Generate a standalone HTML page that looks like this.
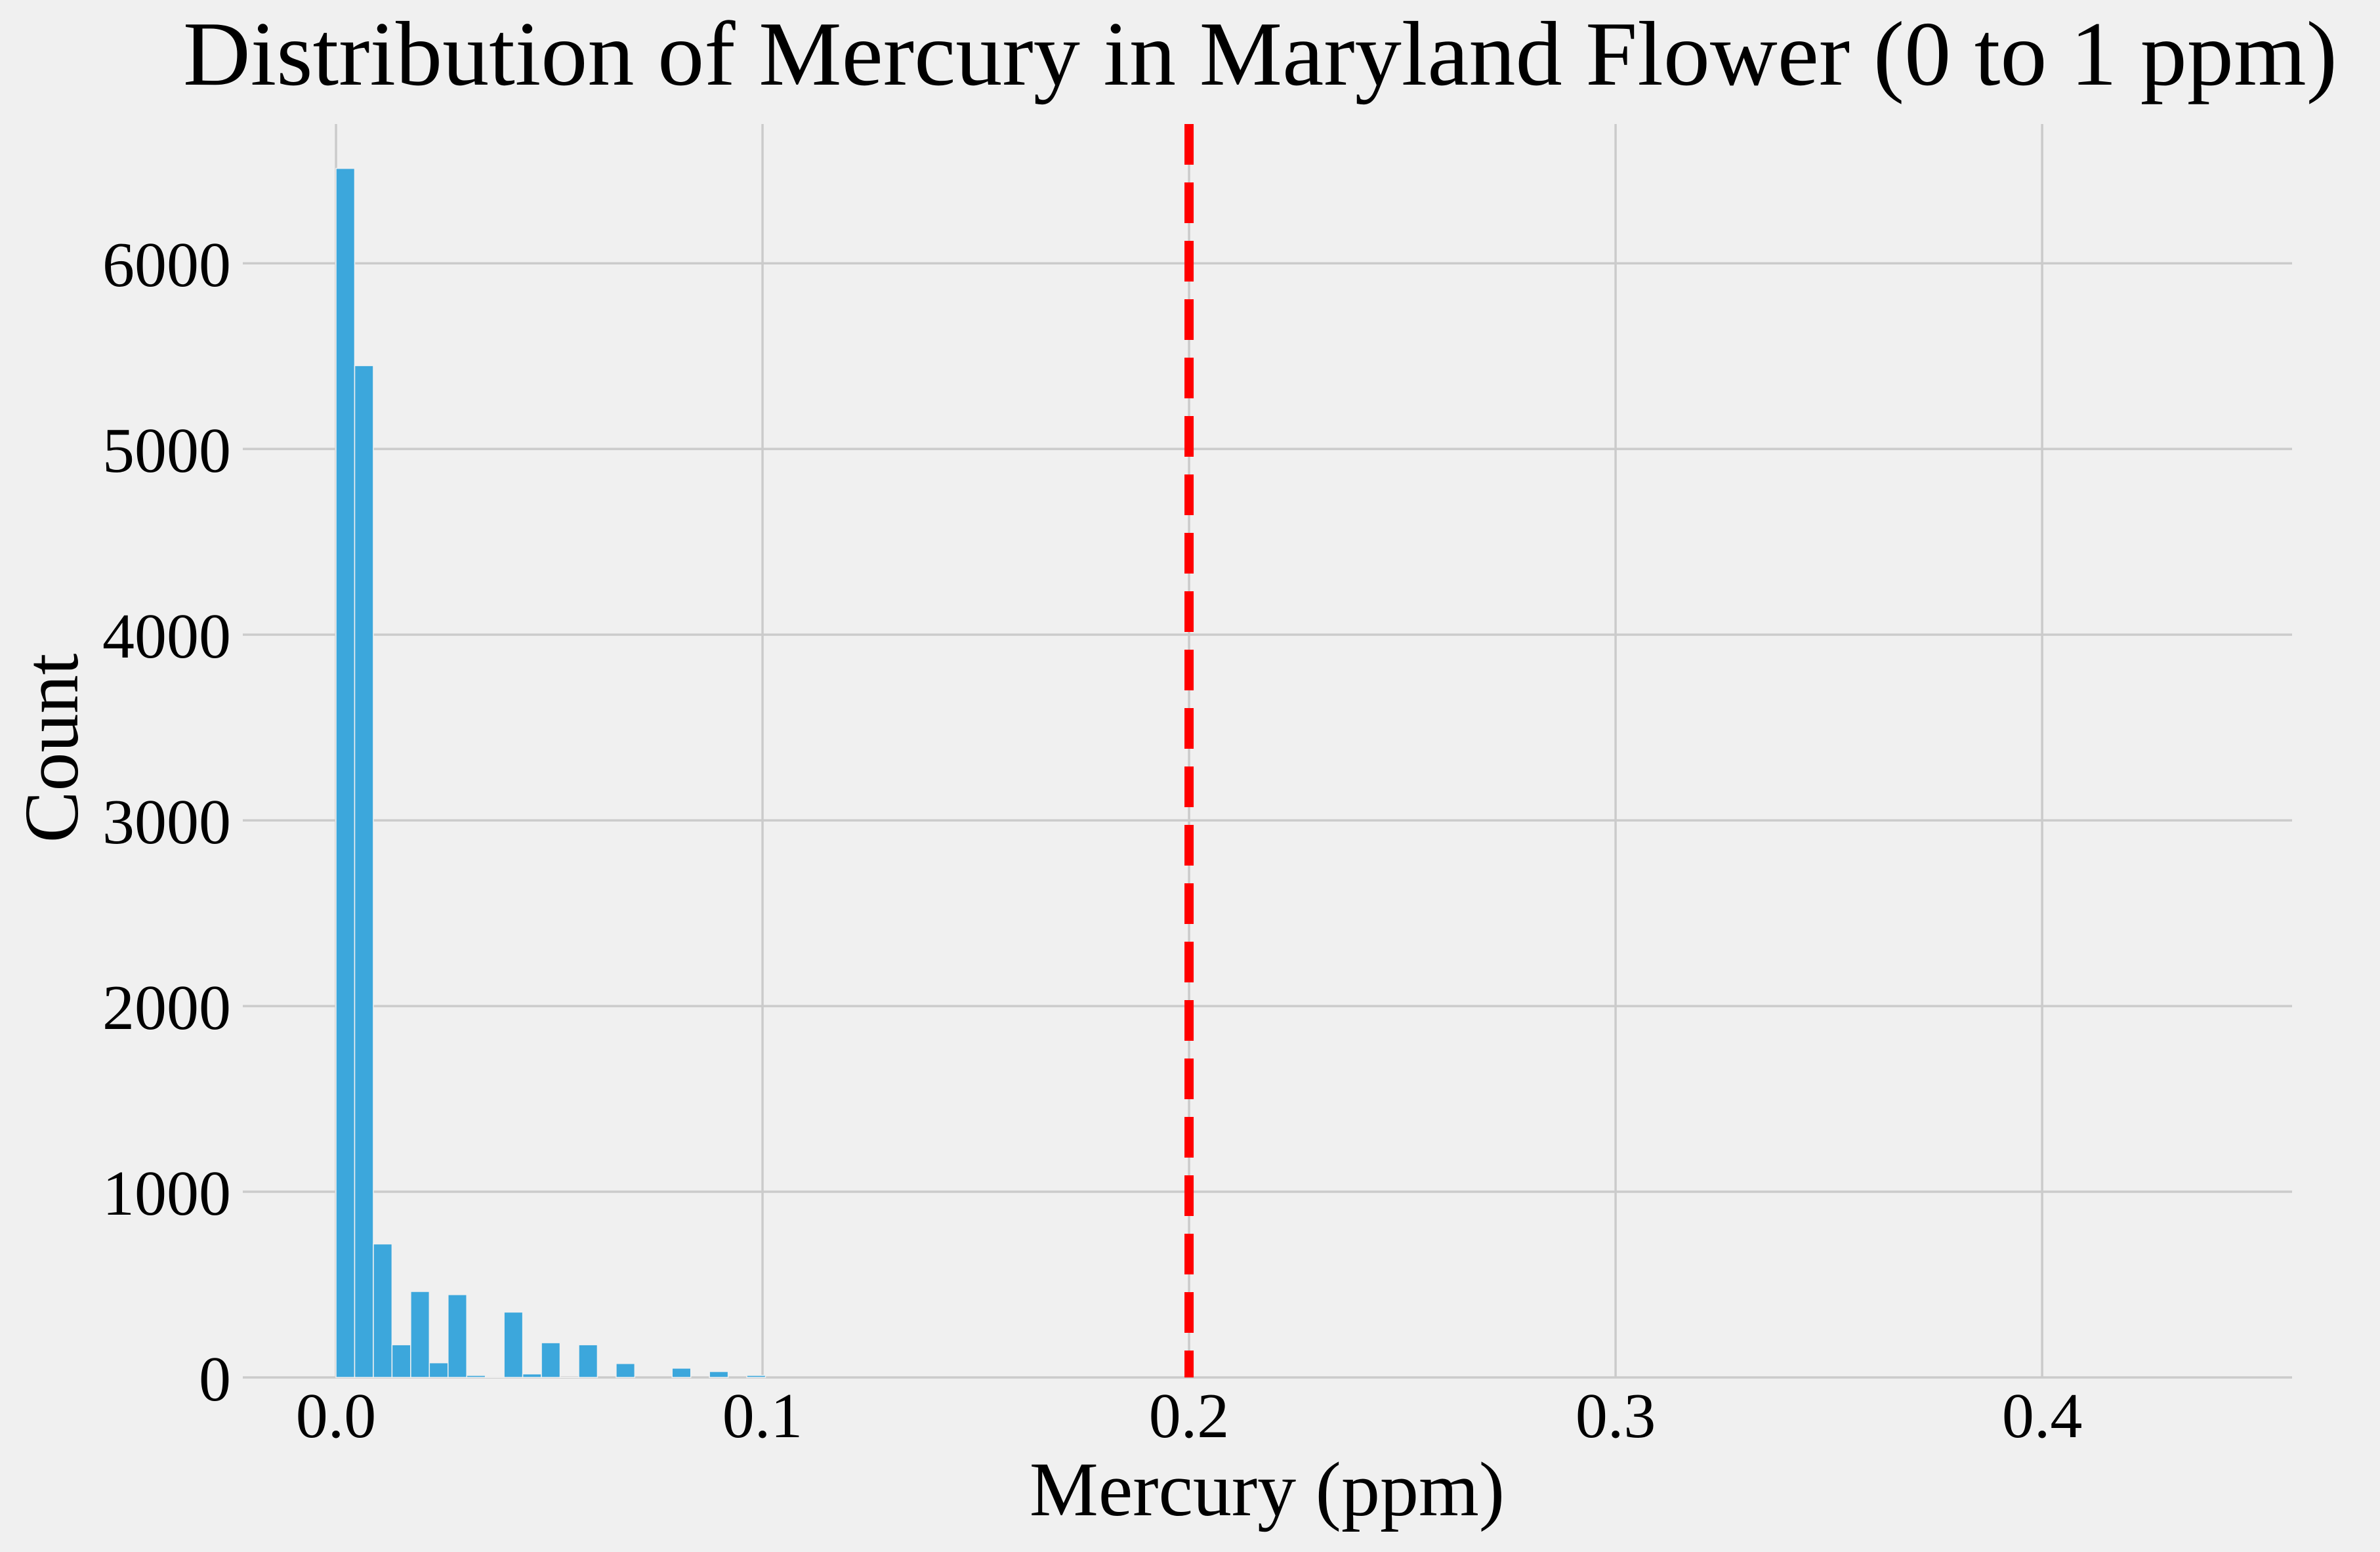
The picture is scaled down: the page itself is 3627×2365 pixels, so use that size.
<!DOCTYPE html>
<html><head><meta charset="utf-8"><style>
html,body{margin:0;padding:0;background:#f0f0f0;}
svg{display:block;}
text{font-family:"Liberation Serif",serif;fill:#000;}
</style></head><body>
<svg id="chart" width="3627" height="2365" viewBox="0 0 3627 2365" xmlns="http://www.w3.org/2000/svg">
<rect x="0" y="0" width="3627" height="2365" fill="#f0f0f0"/>
<g id="grid"></g>
<g id="bars"></g>
<g id="ref"></g>
<g id="labels"></g>
<text x="279" y="129" font-size="140" textLength="3283" lengthAdjust="spacingAndGlyphs">Distribution of Mercury in Maryland Flower (0 to 1 ppm)</text>
<text x="1931" y="2309" font-size="118" text-anchor="middle">Mercury (ppm)</text>
<text x="0" y="0" font-size="118" text-anchor="middle" transform="translate(118,1140) rotate(-90)">Count</text>
</svg>
<script>
const binStart = 0.0;
const binWidth = 0.004378;
const counts = [6511, 5449, 719, 176, 463, 79, 446, 11, 4, 352, 19, 187, 1, 176, 0, 75, 0, 0, 50, 0, 32, 0, 11];
const xTicks = [0.0, 0.1, 0.2, 0.3, 0.4];
const xTickLabels = ["0.0", "0.1", "0.2", "0.3", "0.4"];
const yTicks = [0, 1000, 2000, 3000, 4000, 5000, 6000];
const yTickLabels = ["0", "1000", "2000", "3000", "4000", "5000", "6000"];
const threshold = [0.2];

const L=370, R=3493, T=189, B=2099;
const xMin=-0.02185, xMax=0.4586, yMin=0, yMax=6750;
function sx(v){return L+(v-xMin)/(xMax-xMin)*(R-L);}
function sy(v){return B-(v-yMin)/(yMax-yMin)*(B-T);}
const NS="http://www.w3.org/2000/svg";
function mk(tag,parent,attrs){const e=document.createElementNS(NS,tag);for(const k in attrs)e.setAttribute(k,attrs[k]);parent.appendChild(e);return e;}

const grid=document.getElementById('grid');
yTicks.forEach((t,i)=>{
  const g=mk('line',grid,{x1:L,x2:R,y1:sy(t),y2:sy(t),stroke:'#cbcbcb','stroke-width':3.5});
  
  
  const tx=mk('text',document.getElementById('labels'),{x:352,y:sy(t)+35,'font-size':98,'text-anchor':'end'});
  tx.textContent=yTickLabels[i];
  
  
});
xTicks.forEach((t,i)=>{
  const g=mk('line',grid,{x1:sx(t),x2:sx(t),y1:T,y2:B,stroke:'#cbcbcb','stroke-width':3.5});
  
  
  const tx=mk('text',document.getElementById('labels'),{x:sx(t),y:2190,'font-size':98,'text-anchor':'middle'});
  tx.textContent=xTickLabels[i];
  
  
});
const bars=document.getElementById('bars');
counts.forEach((c,i)=>{
  if(c<=0) return;
  const x0=sx(binStart+i*binWidth), x1=sx(binStart+(i+1)*binWidth);
  const r=mk('rect',bars,{x:x0,y:sy(c),width:x1-x0,height:B-sy(c),fill:'#3ca7dc',stroke:'#f0f0f0','stroke-width':1.5});
  
  
});
const ref=document.getElementById('ref');
threshold.forEach(t=>{
  const l=mk('line',ref,{x1:sx(t),x2:sx(t),y1:T,y2:B,stroke:'#ff0000','stroke-width':14,'stroke-dasharray':'62 27'});
  
  
});
</script>
</body></html>
